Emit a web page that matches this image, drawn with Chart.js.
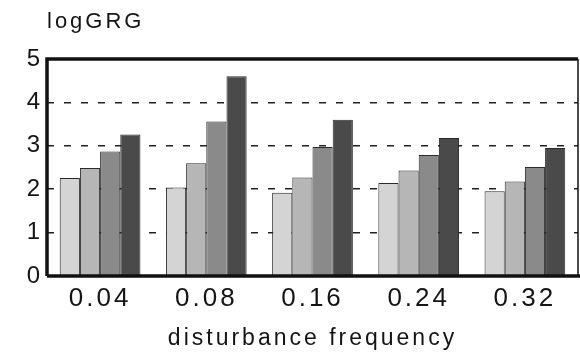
<!DOCTYPE html>
<html>
<head>
<meta charset="utf-8">
<script src="https://cdn.jsdelivr.net/npm/chart.js@4"></script>
<style>
  html, body { margin: 0; padding: 0; background: #fff; }
  #wrap { width: 580px; height: 352px; }
</style>
</head>
<body>
<div id="wrap"><canvas id="grgChart" width="580" height="352"></canvas></div>
<script>
// values
const categories = ['0.04', '0.08', '0.16', '0.24', '0.32'];
const series1 = [2.26, 2.04, 1.92, 2.14, 1.95];
const series2 = [2.49, 2.60, 2.27, 2.43, 2.18];
const series3 = [2.87, 3.56, 2.97, 2.79, 2.51];
const series4 = [3.26, 4.60, 3.60, 3.18, 2.95];
const yMin = 0, yMax = 5, yStep = 1;

const fontFamily = '"Liberation Sans", Arial, Helvetica, sans-serif';
const barColors = ['#d4d4d4', '#b6b6b6', '#8a8a8a', '#4a4a4a'];
const textColor = '#151515';

// frame, title and letter spacing like the printed figure
const framePlugin = {
    id: 'frame',
    beforeDraw(chart) {
        chart.ctx.letterSpacing = '3px';
    },
    afterDraw(chart) {
        const { ctx, chartArea: a } = chart;
        ctx.save();
        ctx.strokeStyle = '#111';
        ctx.lineWidth = 3.5;
        ctx.beginPath();
        ctx.moveTo(a.left, a.bottom);
        ctx.lineTo(a.left, a.top);
        ctx.lineTo(a.right, a.top);
        ctx.stroke();
        ctx.beginPath();
        ctx.moveTo(a.left, a.bottom);
        ctx.lineTo(chart.width, a.bottom);
        ctx.stroke();
        ctx.lineWidth = 1.5;
        ctx.beginPath();
        ctx.moveTo(a.right, a.top);
        ctx.lineTo(a.right, a.bottom);
        ctx.stroke();

        ctx.fillStyle = textColor;
        ctx.font = '22px ' + fontFamily;
        ctx.textAlign = 'left';
        ctx.textBaseline = 'alphabetic';
        ctx.fillText('logGRG', a.left, 28);
        ctx.restore();
    }
};

const ctx = document.getElementById('grgChart').getContext('2d');
new Chart(ctx, {
    type: 'bar',
    data: {
        labels: categories,
        datasets: [series1, series2, series3, series4].map((vals, i) => ({
            data: vals,
            backgroundColor: barColors[i],
            borderColor: '#2a2a2a',
            borderWidth: 1,
            borderSkipped: 'bottom',
            categoryPercentage: 0.76,
            barPercentage: 1.0
        }))
    },
    options: {
        responsive: false,
        animation: false,
        layout: { padding: { top: 59, right: 2, left: 0, bottom: 0 } },
        plugins: {
            legend: { display: false },
            tooltip: { enabled: false }
        },
        scales: {
            x: {
                grid: { display: false, drawTicks: false },
                border: { display: false },
                ticks: {
                    color: textColor,
                    padding: 7,
                    font: { family: fontFamily, size: 26 }
                },
                title: {
                    display: true,
                    text: 'disturbance frequency',
                    color: textColor,
                    font: { family: fontFamily, size: 23 },
                    padding: { top: 4, bottom: 0 }
                },
                afterFit(scale) { scale.height = 76; }
            },
            y: {
                min: yMin,
                max: yMax,
                grid: {
                    drawTicks: false,
                    lineWidth: 1.5,
                    color: c => (c.tick && (c.tick.value === yMin || c.tick.value === yMax)) ? 'rgba(0,0,0,0)' : '#222'
                },
                border: { display: false, dash: [7, 10] },
                ticks: {
                    stepSize: yStep,
                    color: textColor,
                    padding: 4,
                    font: { family: fontFamily, size: 24 }
                },
                afterFit(scale) { scale.width = 47; }
            }
        }
    },
    plugins: [framePlugin]
});
</script>
</body>
</html>
